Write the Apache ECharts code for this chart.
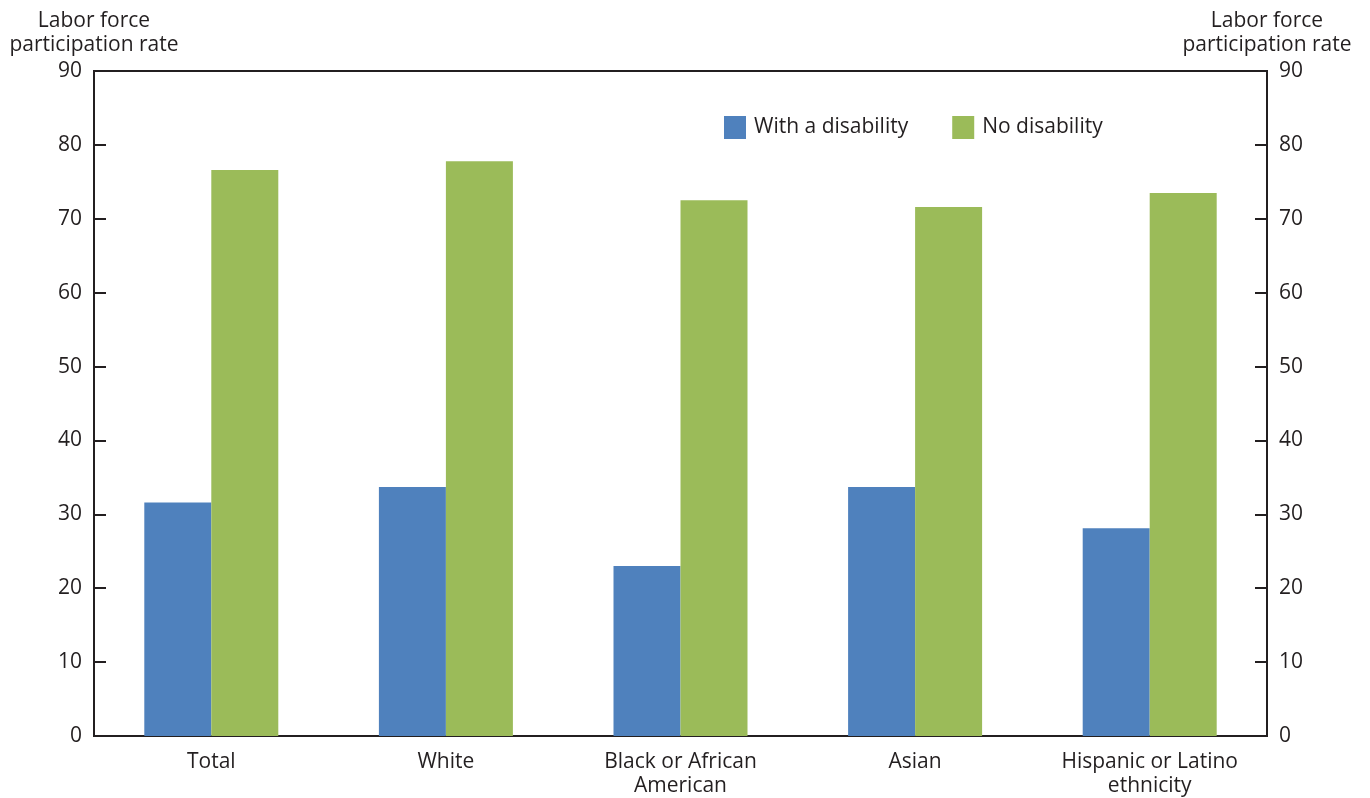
<!DOCTYPE html>
<html>
<head>
<meta charset="utf-8">
<script src="https://cdn.jsdelivr.net/npm/echarts@6/dist/echarts.min.js"></script>
<style>html,body{margin:0;padding:0;background:#fff}#c{width:1370px;height:798px}</style>
</head>
<body>
<div id="c"></div>
<script>
const categories = ['Total', 'White', 'Black or African\nAmerican', 'Asian', 'Hispanic or Latino\nethnicity'];
const withDisability = [31.6, 33.7, 23.0, 33.7, 28.1];
const noDisability = [76.6, 77.8, 72.5, 71.6, 73.5];
const seriesNames = ['With a disability', 'No disability'];
const axisTitle = 'Labor force\nparticipation rate';

const FONT = 'Open Sans';
const FS = 21;
const TXT = '#231f20';
const chart = echarts.init(document.getElementById('c'), null, {renderer: 'canvas'});

const yAxisCommon = {
  type: 'value', min: 0, max: 90, interval: 10,
  name: axisTitle,
  nameLocation: 'end',
  nameGap: 14,
  nameTextStyle: {color: TXT, fontFamily: FONT, fontSize: FS, lineHeight: 24, align: 'center', verticalAlign: 'bottom'},
  axisLine: {show: true, lineStyle: {color: TXT, width: 2}},
  axisTick: {show: true, inside: true, length: 12, lineStyle: {color: TXT, width: 2}},
  axisLabel: {color: TXT, fontFamily: FONT, fontSize: FS, margin: 12},
  splitLine: {show: false}
};

chart.setOption({
  animation: false,
  backgroundColor: '#fff',
  textStyle: {fontFamily: FONT},
  grid: {left: 94, right: 103, top: 71, bottom: 62, show: true, borderColor: TXT, borderWidth: 2},
  legend: {
    data: seriesNames,
    left: 719, top: 111,
    itemWidth: 22, itemHeight: 23, itemGap: 44,
    icon: 'rect',
    textStyle: {color: TXT, fontFamily: FONT, fontSize: FS, padding: [0,0,0,3]}
  },
  xAxis: {
    type: 'category', data: categories,
    axisLine: {show: true, lineStyle: {color: TXT, width: 2}},
    axisTick: {show: false},
    axisLabel: {color: TXT, fontFamily: FONT, fontSize: FS, margin: 14, lineHeight: 24, interval: 0}
  },
  yAxis: [
    Object.assign({}, yAxisCommon, {position: 'left'}),
    Object.assign({}, yAxisCommon, {position: 'right'})
  ],
  series: [
    {name: seriesNames[0], type: 'bar', data: withDisability, barWidth: 67, barGap: '0%', itemStyle: {color: '#4f81bd'}},
    {name: seriesNames[1], type: 'bar', yAxisIndex: 1, data: noDisability, barWidth: 67, barGap: '0%', itemStyle: {color: '#9bbb59'}}
  ]
});
</script>
</body>
</html>
